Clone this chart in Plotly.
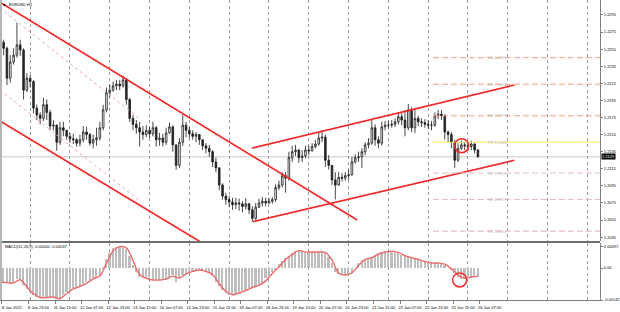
import plotly.graph_objects as go

# ---------------- data ----------------
# bar position = trading-hour index counted from 8 Jan 2021 00:00 (2-hour candles)
bar_hour = list(range(6, 295, 2))

opens = [1.2266, 1.2263, 1.2256, 1.2221, 1.2240, 1.2248, 1.2260, 1.2254, 1.2207, 1.2221,
         1.2217, 1.2186, 1.2178, 1.2174, 1.2190, 1.2181, 1.2165, 1.2166, 1.2146, 1.2163,
         1.2160, 1.2153, 1.2150, 1.2149, 1.2145, 1.2149, 1.2158, 1.2155, 1.2145, 1.2149,
         1.2151, 1.2163, 1.2184, 1.2204, 1.2207, 1.2212, 1.2214, 1.2212, 1.2219, 1.2196,
         1.2174, 1.2167, 1.2163, 1.2158, 1.2155, 1.2160, 1.2156, 1.2163, 1.2149, 1.2151,
         1.2146, 1.2157, 1.2164, 1.2143, 1.2119, 1.2146, 1.2166, 1.2160, 1.2156, 1.2153,
         1.2155, 1.2149, 1.2142, 1.2139, 1.2135, 1.2123, 1.2116, 1.2096, 1.2083, 1.2079,
         1.2076, 1.2073, 1.2075, 1.2074, 1.2071, 1.2074, 1.2067, 1.2057, 1.2070, 1.2075,
         1.2077, 1.2075, 1.2077, 1.2079, 1.2093, 1.2096, 1.2107, 1.2104, 1.2128, 1.2135,
         1.2137, 1.2128, 1.2130, 1.2137, 1.2136, 1.2141, 1.2144, 1.2151, 1.2152, 1.2125,
         1.2119, 1.2102, 1.2096, 1.2105, 1.2104, 1.2107, 1.2108, 1.2123, 1.2128, 1.2129,
         1.2135, 1.2143, 1.2145, 1.2163, 1.2149, 1.2145, 1.2164, 1.2166, 1.2166, 1.2167,
         1.2170, 1.2176, 1.2172, 1.2163, 1.2184, 1.2163, 1.2174, 1.2170, 1.2169, 1.2167,
         1.2166, 1.2166, 1.2177, 1.2179, 1.2177, 1.2158, 1.2155, 1.2146, 1.2125, 1.2139,
         1.2143, 1.2142, 1.2141, 1.2144, 1.2137]

highs = [1.2268, 1.2266, 1.2258, 1.2248, 1.2256, 1.2286, 1.2266, 1.2256, 1.2227, 1.2225,
         1.2219, 1.2190, 1.2181, 1.2198, 1.2196, 1.2184, 1.2172, 1.2167, 1.2170, 1.2170,
         1.2160, 1.2157, 1.2156, 1.2151, 1.2155, 1.2165, 1.2164, 1.2157, 1.2155, 1.2163,
         1.2170, 1.2190, 1.2210, 1.2213, 1.2217, 1.2219, 1.2219, 1.2224, 1.2221, 1.2198,
         1.2178, 1.2172, 1.2170, 1.2165, 1.2166, 1.2164, 1.2170, 1.2165, 1.2157, 1.2156,
         1.2163, 1.2169, 1.2166, 1.2143, 1.2151, 1.2178, 1.2170, 1.2164, 1.2160, 1.2158,
         1.2156, 1.2149, 1.2145, 1.2143, 1.2137, 1.2128, 1.2117, 1.2098, 1.2087, 1.2083,
         1.2081, 1.2081, 1.2080, 1.2077, 1.2081, 1.2075, 1.2071, 1.2075, 1.2080, 1.2082,
         1.2081, 1.2081, 1.2082, 1.2097, 1.2101, 1.2111, 1.2111, 1.2135, 1.2142, 1.2143,
         1.2138, 1.2137, 1.2142, 1.2142, 1.2145, 1.2149, 1.2158, 1.2160, 1.2155, 1.2131,
         1.2119, 1.2111, 1.2111, 1.2110, 1.2111, 1.2114, 1.2129, 1.2132, 1.2135, 1.2139,
         1.2146, 1.2151, 1.2172, 1.2167, 1.2153, 1.2170, 1.2171, 1.2171, 1.2172, 1.2174,
         1.2181, 1.2180, 1.2184, 1.2191, 1.2187, 1.2186, 1.2177, 1.2174, 1.2173, 1.2172,
         1.2171, 1.2181, 1.2184, 1.2184, 1.2179, 1.2160, 1.2158, 1.2149, 1.2145, 1.2148,
         1.2146, 1.2146, 1.2148, 1.2145, 1.2138]

lows = [1.2258, 1.2248, 1.2213, 1.2216, 1.2237, 1.2245, 1.2247, 1.2196, 1.2205, 1.2210,
        1.2180, 1.2172, 1.2167, 1.2171, 1.2172, 1.2160, 1.2160, 1.2136, 1.2143, 1.2153,
        1.2149, 1.2145, 1.2144, 1.2141, 1.2141, 1.2146, 1.2149, 1.2142, 1.2139, 1.2142,
        1.2148, 1.2160, 1.2181, 1.2199, 1.2205, 1.2207, 1.2207, 1.2210, 1.2190, 1.2170,
        1.2160, 1.2156, 1.2141, 1.2149, 1.2152, 1.2151, 1.2153, 1.2141, 1.2142, 1.2141,
        1.2143, 1.2156, 1.2135, 1.2114, 1.2116, 1.2142, 1.2152, 1.2151, 1.2149, 1.2146,
        1.2143, 1.2137, 1.2133, 1.2129, 1.2117, 1.2111, 1.2090, 1.2079, 1.2073, 1.2070,
        1.2067, 1.2068, 1.2066, 1.2064, 1.2067, 1.2062, 1.2053, 1.2055, 1.2069, 1.2071,
        1.2071, 1.2074, 1.2074, 1.2076, 1.2090, 1.2093, 1.2087, 1.2101, 1.2123, 1.2130,
        1.2122, 1.2123, 1.2127, 1.2131, 1.2135, 1.2139, 1.2142, 1.2146, 1.2117, 1.2114,
        1.2096, 1.2079, 1.2095, 1.2100, 1.2101, 1.2102, 1.2107, 1.2121, 1.2123, 1.2116,
        1.2131, 1.2139, 1.2143, 1.2142, 1.2139, 1.2142, 1.2160, 1.2162, 1.2163, 1.2164,
        1.2167, 1.2166, 1.2153, 1.2160, 1.2158, 1.2157, 1.2165, 1.2164, 1.2163, 1.2162,
        1.2160, 1.2164, 1.2173, 1.2172, 1.2149, 1.2146, 1.2139, 1.2116, 1.2123, 1.2137,
        1.2137, 1.2136, 1.2137, 1.2133, 1.2128]

closes = [1.2263, 1.2256, 1.2221, 1.2240, 1.2248, 1.2260, 1.2254, 1.2207, 1.2221, 1.2217,
          1.2186, 1.2178, 1.2174, 1.2190, 1.2181, 1.2165, 1.2166, 1.2146, 1.2163, 1.2160,
          1.2153, 1.2150, 1.2149, 1.2145, 1.2149, 1.2158, 1.2155, 1.2145, 1.2149, 1.2151,
          1.2163, 1.2184, 1.2204, 1.2207, 1.2212, 1.2214, 1.2212, 1.2219, 1.2196, 1.2174,
          1.2167, 1.2163, 1.2158, 1.2155, 1.2160, 1.2156, 1.2163, 1.2149, 1.2151, 1.2146,
          1.2157, 1.2164, 1.2143, 1.2119, 1.2146, 1.2166, 1.2160, 1.2156, 1.2153, 1.2155,
          1.2149, 1.2142, 1.2139, 1.2135, 1.2123, 1.2116, 1.2096, 1.2083, 1.2079, 1.2076,
          1.2073, 1.2075, 1.2074, 1.2071, 1.2074, 1.2067, 1.2057, 1.2070, 1.2075, 1.2077,
          1.2075, 1.2077, 1.2079, 1.2093, 1.2096, 1.2107, 1.2104, 1.2128, 1.2135, 1.2137,
          1.2128, 1.2130, 1.2137, 1.2136, 1.2141, 1.2144, 1.2151, 1.2152, 1.2125, 1.2119,
          1.2102, 1.2096, 1.2105, 1.2104, 1.2107, 1.2108, 1.2123, 1.2128, 1.2129, 1.2135,
          1.2143, 1.2145, 1.2163, 1.2149, 1.2145, 1.2164, 1.2166, 1.2166, 1.2167, 1.2170,
          1.2176, 1.2172, 1.2163, 1.2184, 1.2163, 1.2174, 1.2170, 1.2169, 1.2167, 1.2166,
          1.2166, 1.2177, 1.2179, 1.2177, 1.2158, 1.2155, 1.2146, 1.2125, 1.2139, 1.2143,
          1.2142, 1.2141, 1.2144, 1.2137, 1.2129]

macd_main = [-0.00062, -0.00062, -0.00067, -0.00071, -0.00062, -0.00049, -0.00049, -0.00075, -0.00093, -0.00107,
             -0.00120, -0.00129, -0.00133, -0.00133, -0.00129, -0.00129, -0.00129, -0.00138, -0.00138, -0.00120,
             -0.00107, -0.00098, -0.00089, -0.00084, -0.00080, -0.00075, -0.00062, -0.00053, -0.00044, -0.00040,
             -0.00031, 0.00004, 0.00040, 0.00067, 0.00089, 0.00093, 0.00098, 0.00098, 0.00084, 0.00053,
             0.00013, -0.00018, -0.00040, -0.00044, -0.00049, -0.00053, -0.00053, -0.00053, -0.00053, -0.00049,
             -0.00049, -0.00040, -0.00031, -0.00062, -0.00044, -0.00031, -0.00022, -0.00018, -0.00013, -0.00009,
             -0.00009, -0.00013, -0.00018, -0.00022, -0.00036, -0.00062, -0.00080, -0.00098, -0.00111, -0.00120,
             -0.00120, -0.00115, -0.00107, -0.00102, -0.00098, -0.00089, -0.00084, -0.00080, -0.00075, -0.00071,
             -0.00044, -0.00031, -0.00018, -0.00009, 0.00018, 0.00031, 0.00044, 0.00053, 0.00067, 0.00075,
             0.00080, 0.00075, 0.00067, 0.00071, 0.00071, 0.00071, 0.00071, 0.00071, 0.00067, 0.00049,
             0.00022, -0.00018, -0.00027, -0.00031, -0.00031, -0.00027, -0.00018, 0.00000, 0.00022, 0.00036,
             0.00040, 0.00044, 0.00049, 0.00058, 0.00067, 0.00071, 0.00071, 0.00075, 0.00075, 0.00071,
             0.00067, 0.00058, 0.00053, 0.00049, 0.00044, 0.00040, 0.00036, 0.00031, 0.00027, 0.00022,
             0.00022, 0.00022, 0.00022, 0.00022, 0.00013, 0.00000, -0.00009, -0.00022, -0.00040, -0.00049,
             -0.00044, -0.00040, -0.00040, -0.00040, -0.00040]

signal_hour = list(range(6, 295, 4))
macd_signal = [-0.00062, -0.00065, -0.00066, -0.00052, -0.00084, -0.00114, -0.00131, -0.00131, -0.00129, -0.00136,
               -0.00113, -0.00093, -0.00082, -0.00068, -0.00048, -0.00035, 0.00020, 0.00076, 0.00095, 0.00090,
               0.00033, -0.00029, -0.00046, -0.00053, -0.00053, -0.00049, -0.00036, -0.00045, -0.00026, -0.00015,
               -0.00009, -0.00015, -0.00029, -0.00070, -0.00104, -0.00119, -0.00111, -0.00100, -0.00086, -0.00077,
               -0.00057, -0.00024, 0.00005, 0.00038, 0.00060, 0.00077, 0.00071, 0.00071, 0.00071, 0.00069,
               0.00035, -0.00022, -0.00031, -0.00022, 0.00011, 0.00038, 0.00046, 0.00062, 0.00071, 0.00075,
               0.00069, 0.00055, 0.00046, 0.00038, 0.00029, 0.00022, 0.00022, 0.00017, -0.00004, -0.00031,
               -0.00046, -0.00040, -0.00037]

tick_hours = [7, 23, 39, 55, 71, 87, 103, 119, 135, 151, 167, 183, 199, 215, 231, 247, 263, 279, 295]
tick_labels = ["8 Jan 2021", "8 Jan 23:00", "11 Jan 15:00", "12 Jan 07:00", "12 Jan 23:00",
               "13 Jan 15:00", "14 Jan 07:00", "14 Jan 23:00", "15 Jan 15:00", "18 Jan 07:00",
               "18 Jan 23:00", "19 Jan 15:00", "20 Jan 07:00", "20 Jan 23:00", "21 Jan 15:00",
               "22 Jan 07:00", "22 Jan 23:00", "25 Jan 15:00", "26 Jan 07:00"]

price_ticks = [1.2295, 1.2275, 1.2255, 1.2235, 1.2215, 1.2195, 1.2175, 1.2155,
               1.2135, 1.2115, 1.2095, 1.2075, 1.2055, 1.2035]
macd_ticks = [0.00097, 0.0, -0.00142]
macd_tick_labels = ["0.00097", "0.00", "-0.00142"]

# analysis lines (trading-hour, price)
desc_upper_t, desc_upper_p = [5.8, 221.2], [1.2310, 1.2055]
desc_lower_t, desc_lower_p = [5.8, 128.8], [1.2171, 1.2027]
dot_upper_t, dot_upper_p = [5.8, 89.8], [1.2303, 1.2174]
dot_lower_t, dot_lower_p = [5.8, 89.8], [1.2207, 1.2078]
asc_upper_t, asc_upper_p = [157.6, 316.0], [1.2139, 1.2213]
asc_lower_t, asc_lower_p = [158.2, 316.0], [1.2053, 1.2125]

pivot_names = ["R3", "R2", "R1", "PP", "S1", "S2", "S3"]
pivot_prices = [1.2245, 1.2214, 1.2177, 1.2146, 1.2110, 1.2079, 1.2042]
pivot_start = 266.8

circle_t, circle_p = [284.2], [1.2142]
macd_circle_t, macd_circle_v = [283.0], [-0.00053]

x_range = [5.8, 367.6]
price_range = [1.20305, 1.23125]
macd_range = [-0.00142, 0.00111]

# ---------------- figure ----------------
FONT = "Liberation Sans"
RED = "#F22A2A"

fig = go.Figure()

fig.add_trace(go.Candlestick(
    x=bar_hour, open=opens, high=highs, low=lows, close=closes,
    increasing=dict(line=dict(color="#1A1A1A", width=0.8), fillcolor="#FFFFFF"),
    decreasing=dict(line=dict(color="#1A1A1A", width=0.8), fillcolor="#2A2A2A"),
    whiskerwidth=0, xaxis="x", yaxis="y", hoverinfo="skip"))

# dotted inner channel lines
for tt, pp in [(dot_upper_t, dot_upper_p), (dot_lower_t, dot_lower_p)]:
    fig.add_trace(go.Scatter(x=tt, y=pp, mode="lines", xaxis="x", yaxis="y",
                             line=dict(color="#F3A9A9", width=1, dash="dot"), hoverinfo="skip"))

# red trend lines
for tt, pp in [(desc_upper_t, desc_upper_p), (desc_lower_t, desc_lower_p),
               (asc_upper_t, asc_upper_p), (asc_lower_t, asc_lower_p)]:
    fig.add_trace(go.Scatter(x=tt, y=pp, mode="lines", xaxis="x", yaxis="y",
                             line=dict(color=RED, width=1.7), hoverinfo="skip"))

# pivot levels
for name, lvl in zip(pivot_names, pivot_prices):
    if name == "PP":
        ln = dict(color="#F2EC6A", width=1.1)
    elif name.startswith("R"):
        ln = dict(color="#F4A27E", width=1.1, dash="6px,3px")
    else:
        ln = dict(color="#E7BDBD", width=1.1, dash="6px,3px")
    fig.add_trace(go.Scatter(x=[pivot_start, x_range[1]], y=[lvl, lvl], mode="lines",
                             xaxis="x", yaxis="y", line=ln, hoverinfo="skip"))
    fig.add_annotation(x=306, y=lvl, xref="x", yref="y", text=f"{name} {lvl:.4f}",
                       showarrow=False, font=dict(family=FONT, size=4, color="#B8B8B8"))

# circle highlight on price
fig.add_trace(go.Scatter(x=circle_t, y=circle_p, mode="markers", xaxis="x", yaxis="y",
                         marker=dict(symbol="circle-open", size=14, color=RED,
                                     line=dict(width=1.5, color=RED)), hoverinfo="skip"))

# MACD histogram and signal
fig.add_trace(go.Bar(x=bar_hour, y=macd_main, xaxis="x", yaxis="y2", width=1.0,
                     marker=dict(color="#BEBEBE", line=dict(width=0)), hoverinfo="skip"))
fig.add_trace(go.Scatter(x=signal_hour, y=macd_signal, mode="lines", xaxis="x", yaxis="y2",
                         line=dict(color="#F06A6A", width=1.4, shape="spline"), hoverinfo="skip"))
fig.add_trace(go.Scatter(x=macd_circle_t, y=macd_circle_v, mode="markers", xaxis="x", yaxis="y2",
                         marker=dict(symbol="circle-open", size=14, color=RED,
                                     line=dict(width=1.5, color=RED)), hoverinfo="skip"))

# bid line at last close
fig.add_shape(type="line", xref="x domain", x0=0, x1=1, yref="y", y0=closes[-1], y1=closes[-1],
              line=dict(color="#C8C8C8", width=1), layer="below")

# panel separators / frame
fig.add_shape(type="line", xref="paper", yref="paper", x0=0, x1=1, y0=0.1933, y1=0.1933,
              line=dict(color="#6E6E6E", width=2))
fig.add_shape(type="line", xref="paper", yref="paper", x0=0.0016, x1=0.0016, y0=0, y1=1,
              line=dict(color="#B4B4B4", width=2))

# texts
fig.add_annotation(xref="paper", yref="paper", x=0.002, y=0.985, xanchor="left", yanchor="middle",
                   text="▼", showarrow=False, font=dict(family="DejaVu Sans", size=3, color="#000"))
fig.add_annotation(xref="paper", yref="paper", x=0.012, y=0.985, xanchor="left", yanchor="middle",
                   text="EURUSD,H1", showarrow=False, font=dict(family=FONT, size=4, color="#000"))
fig.add_annotation(xref="paper", yref="paper", x=0.005, y=0.177, xanchor="left", yanchor="middle",
                   text="MACD(12,26,9) -0.00040 -0.00037", showarrow=False,
                   font=dict(family=FONT, size=4, color="#000"))
fig.add_annotation(xref="paper", yref="y", x=1, y=closes[-1], xanchor="left", yanchor="middle",
                   xshift=1, text=f"{closes[-1]:.4f}", showarrow=False, bgcolor="#000000",
                   borderpad=0, font=dict(family=FONT, size=4, color="#FFFFFF"))

axis_font = dict(family=FONT, size=4, color="#000000")

fig.update_layout(
    width=620, height=312,
    margin=dict(l=0, r=17, t=0, b=12),
    paper_bgcolor="#FFFFFF", plot_bgcolor="#FFFFFF",
    showlegend=False, bargap=0,
    xaxis=dict(domain=[0, 1], anchor="y2", range=x_range, tickvals=tick_hours, ticktext=tick_labels,
               ticks="outside", ticklen=3, tickcolor="#808080", tickfont=axis_font,
               ticklabelshift=10, showgrid=False, zeroline=False,
               showline=True, linecolor="#808080", linewidth=1,
               rangeslider=dict(visible=False),
               minor=dict(tick0=0, dtick=24, showgrid=True, gridcolor="#9A9A9A",
                          griddash="dot", gridwidth=1, ticks="")),
    yaxis=dict(domain=[0.1967, 1], anchor="x", side="right", range=price_range,
               tickvals=price_ticks, ticktext=[f"{v:.4f}" for v in price_ticks],
               tickfont=axis_font, ticks="outside", ticklen=2, tickcolor="#808080",
               showgrid=False, zeroline=False, showline=True, linecolor="#808080", linewidth=1),
    yaxis2=dict(domain=[0, 0.19], anchor="x", side="right", range=macd_range,
                tickvals=macd_ticks, ticktext=macd_tick_labels,
                tickfont=axis_font, ticks="outside", ticklen=2, tickcolor="#808080",
                showgrid=False, zeroline=False, showline=True, linecolor="#808080", linewidth=1),
)

fig.write_html("out.html")
